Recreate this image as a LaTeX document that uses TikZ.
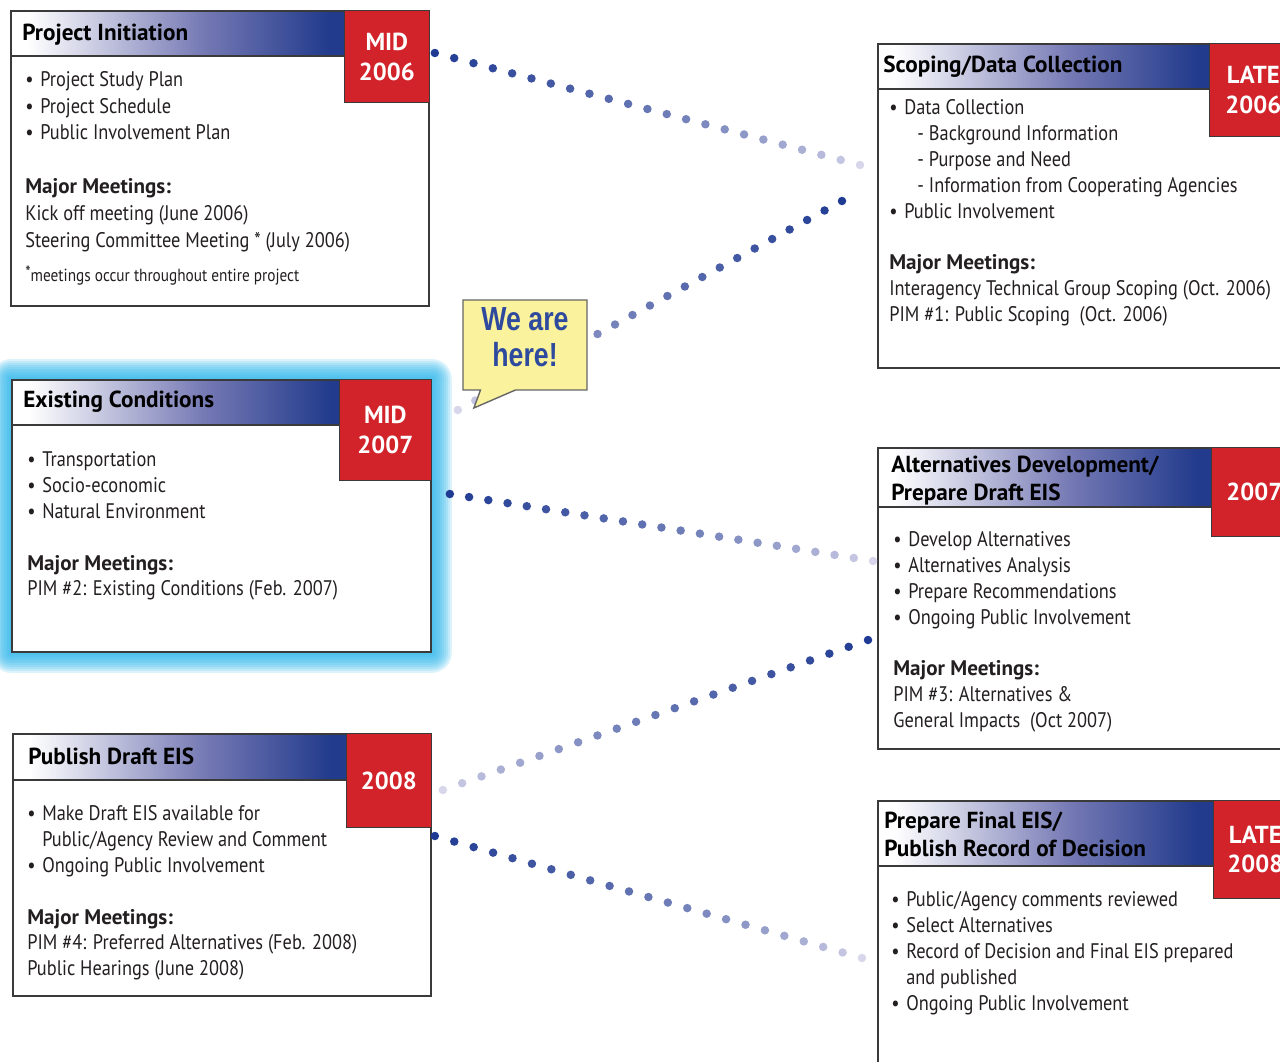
\documentclass[tikz,border=0pt]{standalone}
\usepackage{fontspec}
\setmainfont{PT Sans}[FakeStretch=0.87]
\newfontfamily\hdfont{PT Sans}
\newfontfamily\calloutfont{Liberation Sans}[FakeStretch=0.8]
\usepackage{tikz}
\usetikzlibrary{calc, shapes.callouts}
\pgfdeclarelayer{background}
\pgfsetlayers{background,main}

\definecolor{hdrblue}{HTML}{223B8C}
\definecolor{hdrmid}{HTML}{7579B4}
\definecolor{datered}{HTML}{D2232A}
\definecolor{boxgray}{HTML}{3A3A3A}
\definecolor{dotdark}{HTML}{1E3A92}
\definecolor{dotlight}{HTML}{D8D6EA}
\definecolor{glowcyan}{HTML}{2CB5EA}
\definecolor{noteyellow}{HTML}{FAF29C}
\definecolor{noteblue}{HTML}{2E4A9E}
\definecolor{inktext}{HTML}{231F20}

\pgfdeclarehorizontalshading{hdrshade}{100bp}{color(0bp)=(white); color(27bp)=(white); color(48bp)=(hdrmid); color(63bp)=(hdrblue); color(100bp)=(hdrblue)}

\newcommand{\bul}{\makebox[8.5pt][l]{\textbullet}}
\newcommand{\ind}{\hspace*{8.5pt}}
\newcommand{\meet}{{\hdfont\bfseries Major Meetings:}}

\tikzset{phase/.style={draw=boxgray, line width=1.1pt, fill=white, inner sep=0pt, anchor=north west,
    path picture={
      \shade[shading=hdrshade] (path picture bounding box.north west) rectangle ([yshift=-#1]path picture bounding box.north east);
      \draw[boxgray, line width=1.1pt] ([yshift=-#1]path picture bounding box.north west) -- ([yshift=-#1]path picture bounding box.north east);
    }}}
\tikzstyle{datebox} = [draw=boxgray, line width=0.6pt, fill=datered, text=white, inner sep=0pt, anchor=north east, align=center, font=\hdfont\bfseries\fontsize{14}{17}\selectfont]
\tikzstyle{title}   = [anchor=north west, inner sep=0pt, align=left, text=black, font=\hdfont\bfseries\fontsize{13.2}{16}\selectfont]
\tikzstyle{body}    = [anchor=north west, inner sep=0pt, align=left, text=inktext, font=\fontsize{12}{14.74}\selectfont]
\tikzstyle{note}    = [rectangle callout, draw=gray!80!black, line width=0.8pt, fill=noteyellow, text=noteblue, align=center, minimum width=2.48cm, minimum height=1.8cm, inner sep=0pt, text depth=0.32cm, callout pointer width=0.7cm, font=\calloutfont\bfseries\fontsize{19}{20}\selectfont]

\begin{document}
\begin{tikzpicture}[x=0.02cm, y=-0.02cm]
      \useasboundingbox (0,0) rectangle (1280,1061);
      \clip (0,0) rectangle (1280,1061);

      % left column
      \node (init)  [phase=0.9cm, minimum width=8.36cm, minimum height=5.9cm]  at (10,10)  {};
      \node (exist) [phase=0.9cm, minimum width=8.38cm, minimum height=5.44cm] at (11,379) {};
      \node (pub)   [phase=0.92cm, minimum width=8.36cm, minimum height=5.24cm] at (12,733) {};

      % right column
      \node (scop)  [phase=0.9cm, minimum width=8.38cm, minimum height=6.48cm]  at (877,43)  {};
      \node (alt)   [phase=1.18cm, minimum width=8.38cm, minimum height=6.02cm] at (877,447) {};
      \node (final) [phase=1.3cm, minimum width=8.38cm, minimum height=6cm]     at (877,800) {};

      \begin{pgfonlayer}{background}
        \foreach \g in {2,4,...,20}
          \fill[glowcyan, opacity=0.16, rounded corners=\g*0.02cm] ($(exist.north west)+(-\g,-\g)$) rectangle ($(exist.south east)+(\g,\g)$);
      \end{pgfonlayer}

      \node (initdate)  [datebox, minimum width=1.7cm, minimum height=1.84cm]  at (init.north east)  {MID\\2006};
      \node (existdate) [datebox, minimum width=1.84cm, minimum height=2.02cm] at (exist.north east) {MID\\2007};
      \node (pubdate)   [datebox, minimum width=1.7cm, minimum height=1.88cm]  at (pub.north east)   {2008};
      \node (scopdate)  [datebox, minimum width=1.76cm, minimum height=1.86cm] at (scop.north east)  {LATE\\2006};
      \node (altdate)   [datebox, minimum width=1.72cm, minimum height=1.78cm] at (alt.north east)   {2007};
      \node (finaldate) [datebox, minimum width=1.68cm, minimum height=1.96cm] at (final.north east) {LATE\\2008};

      \node (inittitle)  [title] at ($(init.north west)+(12,10)$)  {\strut Project Initiation};
      \node (existtitle) [title] at ($(exist.north west)+(12,8)$)  {\strut Existing Conditions};
      \node (pubtitle)   [title] at ($(pub.north west)+(16,11)$)   {\strut Publish Draft EIS};
      \node (scoptitle)  [title] at ($(scop.north west)+(6,9)$)    {\strut Scoping/Data Collection};
      \node (alttitle)   [title] at ($(alt.north west)+(14,5)$)    {\strut Alternatives Development/\\Prepare Draft EIS};
      \node (finaltitle) [title] at ($(final.north west)+(7,8)$)   {\strut Prepare Final EIS/\\Publish Record of Decision};

      \node (initbody) [body, font=\fontsize{12}{15.3}\selectfont] at ($(init.north west)+(15,57)$) {\strut\bul Project Study Plan\\
        \bul Project Schedule\\
        \bul Public Involvement Plan\\[\baselineskip]
        \meet\\
        Kick off meeting (June 2006)\\
        Steering Committee Meeting * (July 2006)};
      \node (initnote) [body, font=\fontsize{10}{12}\selectfont] at ($(init.north west)+(15,256)$) {\strut\raisebox{0.3ex}{*}meetings occur throughout entire project};

      \node (existbody) [body] at ($(exist.north west)+(16,69)$) {\strut\bul Transportation\\
        \bul Socio-economic\\
        \bul Natural Environment\\[\baselineskip]
        \meet\\
        PIM \#2: Existing Conditions (Feb. 2007)};

      \node (pubbody) [body] at ($(pub.north west)+(15,69)$) {\strut\bul Make Draft EIS available for\\
        \ind Public/Agency Review and Comment\\
        \bul Ongoing Public Involvement\\[\baselineskip]
        \meet\\
        PIM \#4: Preferred Alternatives (Feb. 2008)\\
        Public Hearings (June 2008)};

      \node (scopbody) [body] at ($(scop.north west)+(12,53)$) {\strut\bul Data Collection\\
        \hspace*{16pt}- Background Information\\
        \hspace*{16pt}- Purpose and Need\\
        \hspace*{16pt}- Information from Cooperating Agencies\\
        \bul Public Involvement\\[\baselineskip]
        \meet\\
        Interagency Technical Group Scoping (Oct. 2006)\\
        PIM \#1: Public Scoping\ \ (Oct. 2006)};

      \node (altbody) [body] at ($(alt.north west)+(16,81)$) {\strut\bul Develop Alternatives\\
        \bul Alternatives Analysis\\
        \bul Prepare Recommendations\\
        \bul Ongoing Public Involvement\\[\baselineskip]
        \meet\\
        PIM \#3: Alternatives \&\\
        General Impacts\ \ (Oct 2007)};

      \node (finalbody) [body] at ($(final.north west)+(14,88)$) {\strut\bul Public/Agency comments reviewed\\
        \bul Select Alternatives\\
        \bul Record of Decision and Final EIS prepared\\
        \ind and published\\
        \bul Ongoing Public Involvement};

      % dotted connectors, fading towards the far end
      \coordinate (c1a) at ($(init.north east)+(5,43)$);
      \coordinate (c1b) at ($(scop.north west)+(-17,122)$);
      \coordinate (c2a) at ($(scop.north west)+(-35,158)$);
      \coordinate (c2b) at ($(exist.north east)+(26,31)$);
      \coordinate (c3a) at ($(exist.north east)+(18,115)$);
      \coordinate (c3b) at ($(alt.north west)+(-4,114)$);
      \coordinate (c4a) at ($(alt.north west)+(-9,193)$);
      \coordinate (c4b) at ($(pub.north east)+(11,57)$);
      \coordinate (c5a) at ($(pub.north east)+(3,103)$);
      \coordinate (c5b) at ($(final.north west)+(-15,158)$);

      \foreach \ca/\cb in {c1a/c1b, c2a/c2b, c3a/c3b, c4a/c4b, c5a/c5b}
        \foreach \k in {0,...,22}{
          \pgfmathtruncatemacro\dotmix{100*(1-\k/22)^0.7}
          \fill[dotdark!\dotmix!dotlight] ($(\ca)!\k/22!(\cb)$) circle[radius=0.085cm];
        }

      % we are here
      \coordinate (tip) at ($(exist.north east)+(42,29)$);
      \node (here) [note, callout absolute pointer=(tip)] at (525,345) {We are\\here!};
\end{tikzpicture}
\end{document}
